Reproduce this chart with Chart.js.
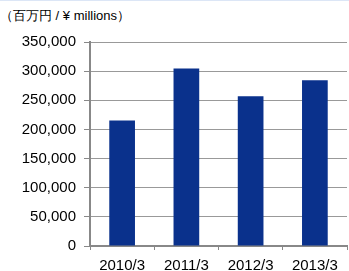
<!DOCTYPE html>
<html><head><meta charset="utf-8">
<script src="https://cdn.jsdelivr.net/npm/chart.js@4.4.0/dist/chart.umd.min.js"></script>
<style>
html,body{margin:0;padding:0;background:#fff;}
#wrap{position:relative;width:349px;height:271px;border-top:1px solid #dce6f6;box-sizing:border-box;overflow:hidden;}
#unit{position:absolute;left:0px;top:6px;font:13px "Liberation Sans",Arial,sans-serif;color:#000;}
canvas{position:absolute;left:0;top:0;}
</style></head><body>
<div id="wrap"><div id="unit">（百万円 / ¥ millions）</div><canvas id="c" width="349" height="270"></canvas></div>
<script>
const categories = ["2010/3","2011/3","2012/3","2013/3"];
const netSales = [215400, 304600, 256900, 284300];
const yTicks = [0,50000,100000,150000,200000,250000,300000,350000];
const FONT = '"Liberation Sans", Arial, sans-serif';
new Chart(document.getElementById('c'), {
  type: 'bar',
  data: { labels: categories, datasets: [{ data: netSales, backgroundColor: '#0a318c', borderWidth: 0, barPercentage: 0.4, categoryPercentage: 1.0 }] },
  options: {
    responsive: false, animation: false,
    layout: { padding: { top: 41, right: 2, left: 0, bottom: 0 } },
    plugins: { legend: { display: false }, tooltip: { enabled: false } },
    scales: {
      x: {
        afterFit: s => { s.height = 25; },
        grid: { display: true, drawOnChartArea: false, drawTicks: true, tickLength: 4, tickColor: '#888', offset: true },
        border: { color: '#888', width: 2 },
        ticks: { color: '#000', font: { family: FONT, size: 15 }, padding: 7 }
      },
      y: {
        min: 0, max: 350000,
        afterFit: s => { s.width = 90; },
        afterBuildTicks: s => { s.ticks = yTicks.map(v => ({ value: v })); },
        grid: { color: '#999', borderDash: [1,1], drawTicks: true, tickLength: 6, tickColor: '#888', tickBorderDash: [] },
        border: { color: '#888', width: 2 },
        ticks: { color: '#000', font: { family: FONT, size: 15 }, padding: 8,
          callback: v => v.toLocaleString('en-US') }
      }
    }
  }
});
</script>
</body></html>
